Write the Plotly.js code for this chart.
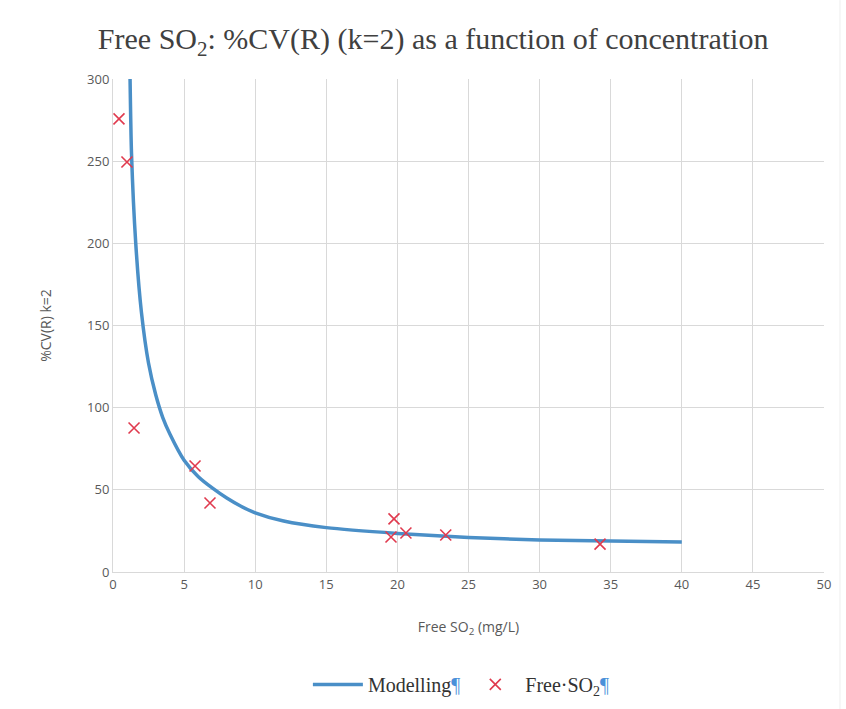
<!DOCTYPE html>
<html>
<head>
<meta charset="utf-8">
<script src="https://cdn.plot.ly/plotly-3.0.1.min.js"></script>
<style>
html,body{margin:0;padding:0;background:#fff;}
#chart{width:846px;height:709px;}
</style>
</head>
<body>
<div id="chart"></div>
<script>
// Modelling curve
var modelX = [1.2, 1.3, 1.6, 2.0, 2.5, 3.0, 3.5, 4.0, 5.0, 6.0, 7.0, 8.0, 9.0, 10, 12, 15, 20, 25, 30, 35, 40];
var modelY = [300, 255, 200, 158, 127, 108, 94, 84, 68, 58, 51, 45, 40, 36, 31, 27, 23.5, 21, 19.5, 18.8, 18.3];
// Measured Free SO2 points
var pointX = [0.42, 0.98, 1.48, 5.77, 6.82, 19.76, 19.55, 20.6, 23.4, 34.25];
var pointY = [275.7, 249.5, 87.6, 64.5, 42, 32.3, 21.3, 23.7, 22.5, 17];
var xTicks = [0, 5, 10, 15, 20, 25, 30, 35, 40, 45, 50];
var yTicks = [0, 50, 100, 150, 200, 250, 300];

var serif = "'Liberation Serif', 'DejaVu Serif', serif";
var sans = "'Open Sans', 'Liberation Sans', sans-serif";

var traces = [
  {
    x: modelX, y: modelY, mode: 'lines', type: 'scatter',
    name: 'Modelling<span style="color:#4a90d9">¶</span>',
    line: {color: '#4a8fc7', width: 3.5, shape: 'spline', smoothing: 0.6}
  },
  {
    x: pointX, y: pointY, mode: 'markers', type: 'scatter',
    name: 'Free·SO<sub>2</sub><span style="color:#4a90d9">¶</span>',
    marker: {symbol: 'x-thin', size: 11, line: {color: '#e03a4e', width: 1.6}, color: '#e03a4e'}
  }
];

var layout = {
  width: 846, height: 709,
  margin: {l: 113, r: 22, t: 79, b: 137, autoexpand: false},
  paper_bgcolor: '#fff', plot_bgcolor: '#fff',
  title: {
    text: 'Free SO<sub>2</sub>: %CV(R) (k=2) as a function of concentration',
    font: {family: serif, size: 30, color: '#404040'},
    x: 0.512, xanchor: 'center', y: 0.945, yanchor: 'middle'
  },
  xaxis: {
    range: [0, 50], tickvals: xTicks, ticktext: xTicks.map(String),
    showgrid: true, gridcolor: '#d9d9d9', gridwidth: 1, automargin: false,
    zeroline: false, showline: true, linecolor: '#d9d9d9', ticks: '',
    tickfont: {family: sans, size: 13, color: '#595959'},
    title: {text: 'Free SO<sub>2</sub> (mg/L)', font: {family: sans, size: 14, color: '#595959'}, standoff: 30}
  },
  yaxis: {
    range: [0, 300], tickvals: yTicks, ticktext: yTicks.map(String),
    showgrid: true, gridcolor: '#d9d9d9', gridwidth: 1, automargin: false,
    zeroline: false, showline: true, linecolor: '#d9d9d9', ticks: '',
    tickfont: {family: sans, size: 13, color: '#595959'},
    title: {text: '%CV(R) k=2', font: {family: sans, size: 14, color: '#595959'}, standoff: 32}
  },
  showlegend: true,
  legend: {
    orientation: 'h', x: 0.49, xanchor: 'center', y: -0.228, yanchor: 'middle',
    font: {family: serif, size: 20, color: '#333'},
    itemwidth: 50, traceorder: 'normal'
  },
  shapes: [
    {type: 'line', xref: 'paper', yref: 'paper', x0: 1.0225, x1: 1.0225, y0: -0.28, y1: 1.16, line: {color: '#eeeeee', width: 1}}
  ]
};

Plotly.newPlot('chart', traces, layout, {displayModeBar: false, staticPlot: true});
</script>
</body>
</html>
